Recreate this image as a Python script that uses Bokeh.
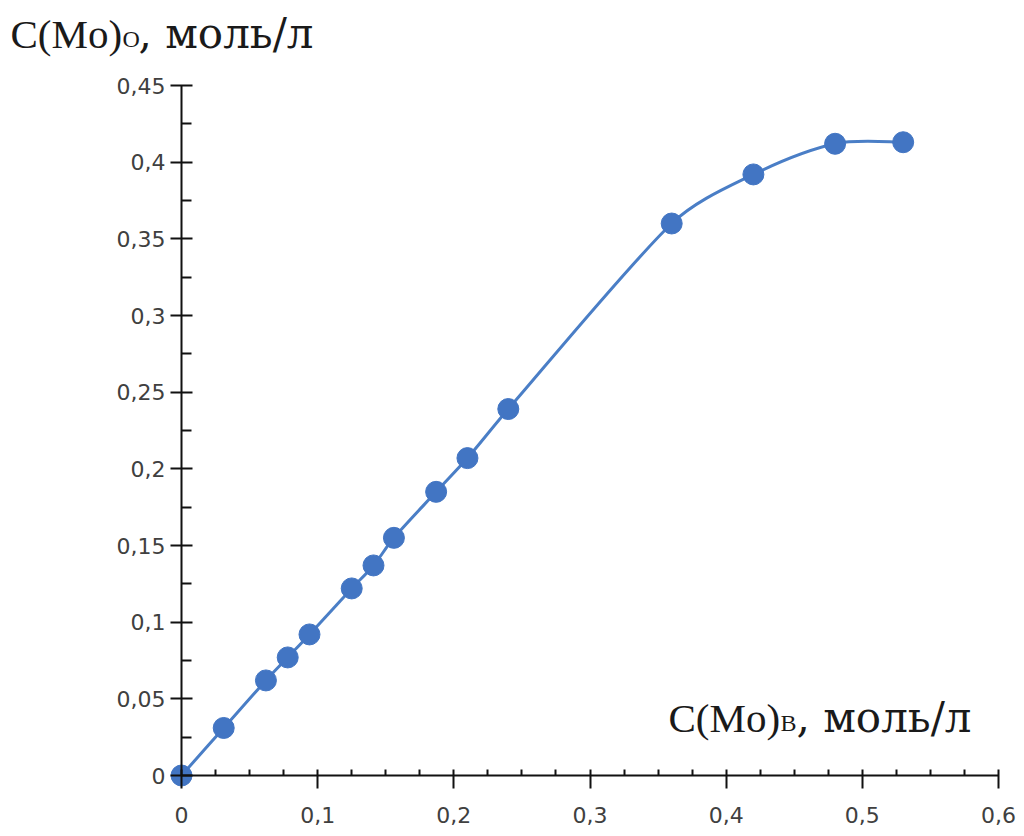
import numpy as np
from bokeh.plotting import figure
from bokeh.models import Range1d, LinearAxis, FixedTicker, Label
from bokeh.embed import file_html
from bokeh.resources import INLINE

# ---- data ----
c_mo_water = [0, 0.031, 0.062, 0.078, 0.094, 0.125, 0.141, 0.156, 0.187, 0.21, 0.24, 0.36, 0.42, 0.48, 0.53]
c_mo_org = [0, 0.031, 0.062, 0.077, 0.092, 0.122, 0.137, 0.155, 0.185, 0.207, 0.239, 0.36, 0.392, 0.412, 0.413]

x_ticks = [0, 0.1, 0.2, 0.3, 0.4, 0.5, 0.6]
x_tick_labels = ["0", "0,1", "0,2", "0,3", "0,4", "0,5", "0,6"]
x_minor_ticks = [0.025, 0.05, 0.075, 0.125, 0.15, 0.175, 0.225, 0.25, 0.275, 0.325, 0.35, 0.375,
                 0.425, 0.45, 0.475, 0.525, 0.55, 0.575]
y_ticks = [0, 0.05, 0.1, 0.15, 0.2, 0.25, 0.3, 0.35, 0.4, 0.45]
y_tick_labels = ["0", "0,05", "0,1", "0,15", "0,2", "0,25", "0,3", "0,35", "0,4", "0,45"]
y_minor_ticks = [0.025, 0.075, 0.125, 0.175, 0.225, 0.275, 0.325, 0.375, 0.425]

# ---- layout (pixel placement of the axes) ----
W, H = 1024, 836
X0_PX, X1_PX = 181, 998   # pixel of x=0 and x=0.6
Y0_PX, Y1_PX = 775, 85    # pixel of y=0 and y=0.45
kx = (X1_PX - X0_PX) / 0.6
ky = (Y0_PX - Y1_PX) / 0.45

def dx(px):
    return (px - X0_PX) / kx

def dy(py):
    return (Y0_PX - py) / ky

p = figure(width=W, height=H, output_backend="svg", toolbar_location=None,
           x_range=Range1d(dx(0), dx(W)), y_range=Range1d(dy(H), dy(0)),
           x_axis_type=None, y_axis_type=None,
           min_border=0, min_border_left=0, min_border_right=0,
           min_border_top=0, min_border_bottom=0)
p.outline_line_color = None
p.background_fill_color = "white"
p.border_fill_color = "white"

tick_font = "DejaVu Sans"
tick_color = "#404040"

xaxis = LinearAxis(fixed_location=0, bounds=(0, 0.6),
                   ticker=FixedTicker(ticks=x_ticks, minor_ticks=x_minor_ticks),
                   major_label_overrides={t: l for t, l in zip(x_ticks, x_tick_labels)})
yaxis = LinearAxis(fixed_location=0, bounds=(0, 0.45),
                   ticker=FixedTicker(ticks=y_ticks, minor_ticks=y_minor_ticks),
                   major_label_overrides={t: l for t, l in zip(y_ticks, y_tick_labels)})
for ax in (xaxis, yaxis):
    ax.axis_line_color = "#111111"
    ax.axis_line_width = 2
    ax.major_tick_line_color = "#111111"
    ax.major_tick_line_width = 2
    ax.minor_tick_line_color = "#111111"
    ax.minor_tick_line_width = 2
    ax.minor_tick_out = 0
    ax.major_label_text_font = tick_font
    ax.major_label_text_font_size = "22px"
    ax.major_label_text_color = tick_color
xaxis.major_tick_in = 6
xaxis.major_tick_out = 13
xaxis.minor_tick_in = 6
xaxis.major_label_standoff = 18
yaxis.major_tick_in = 11
yaxis.major_tick_out = 11
yaxis.minor_tick_in = 10
yaxis.major_label_standoff = 5
p.add_layout(xaxis, "below")
p.add_layout(yaxis, "left")

# ---- smoothed line: Catmull-Rom style bezier, handles capped at 1/3 of each segment ----
P = np.column_stack([c_mo_water, c_mo_org]).astype(float)
scale = np.array([kx, ky])
S = P * scale                       # screen-proportional space
T = np.empty_like(S)
T[1:-1] = S[2:] - S[:-2]
T[0] = S[1] - S[0]
T[-1] = S[-1] - S[-2]
t_len = np.linalg.norm(T, axis=1)
D = T / t_len[:, None]
seg_len = np.linalg.norm(S[1:] - S[:-1], axis=1)
h0 = np.minimum(t_len[:-1] / 6.0, seg_len / 3.0)
h1 = np.minimum(t_len[1:] / 6.0, seg_len / 3.0)
C0 = (S[:-1] + D[:-1] * h0[:, None]) / scale
C1 = (S[1:] - D[1:] * h1[:, None]) / scale
start = P[:-1]
end = P[1:]
line_color = "#4a7ec6"
p.bezier(x0=start[:, 0], y0=start[:, 1], x1=end[:, 0], y1=end[:, 1],
         cx0=C0[:, 0], cy0=C0[:, 1], cx1=C1[:, 0], cy1=C1[:, 1],
         line_color=line_color, line_width=3)
p.scatter(c_mo_water, c_mo_org, size=21, fill_color="#4275c3", line_color="#4275c3")

# ---- axis titles with subscripts ----
serif = "Liberation Serif"
txt_color = "#1a1a1a"

def lab(text, px, py, size, font=serif):
    p.add_layout(Label(x=dx(px), y=dy(py), text=text, text_font=font,
                       text_font_size=size, text_color=txt_color,
                       text_baseline="alphabetic", text_align="left"))

lab("C(Mo)", 10, 33, "41px")
lab("O", 122, 38, "24px")
lab(", моль/л", 138, 33, "42px", "DejaVu Serif")

lab("C(Mo)", 668, 717, "41px")
lab("B", 780, 722, "24px")
lab(", моль/л", 796, 717, "42px", "DejaVu Serif")

open("out.html", "w").write(file_html(p, INLINE))
